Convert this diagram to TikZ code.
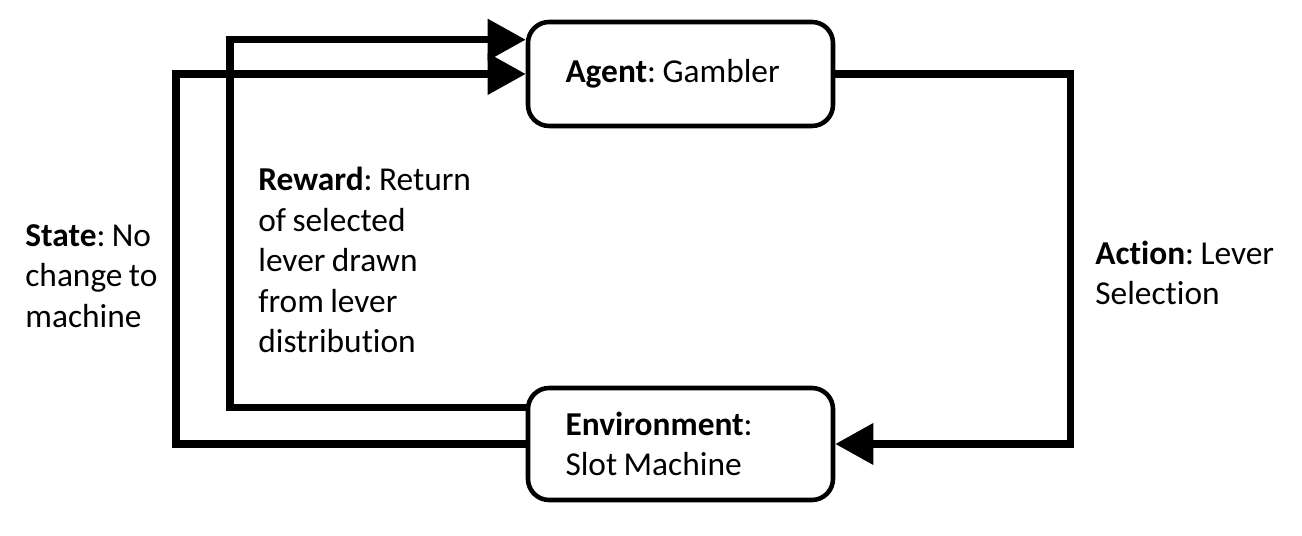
\documentclass[tikz,border=0pt]{standalone}
\usepackage{fontspec}
\setmainfont[Ligatures=NoCommon, WordSpace=0.85]{Carlito}
\usetikzlibrary{calc, positioning, arrows.meta}

\begin{document}
\frenchspacing
\begin{tikzpicture}[
    box/.style={draw, line width=2.6pt, rounded corners=12pt, minimum width=6.1cm,
      text width=4.6cm, align=flush left, inner sep=0pt},
    flow/.style={line width=4pt, -{Triangle[length=0.76cm, width=0.8cm]}},
    lbl/.style={anchor=west, align=left, inner sep=0pt},
    font=\fontsize{19}{23}\selectfont,
  ]
    \useasboundingbox (0,0) rectangle (26.04,10.72);

    % the two boxes
    \node[box, minimum height=2.08cm] (agent) at (13.61,9.24) {\textbf{Agent}: Gambler};
    \node[box, minimum height=2.24cm] (env) at (13.61,1.84) {\textbf{Environment}:\\Slot Machine};

    % loops
    \coordinate (rwout) at ($(env.north west)+(0,-0.44)$);
    \coordinate (rwin) at ($(agent.north west)+(0,-0.4)$);
    \draw[flow] (agent.east) -- (21.4,0 |- agent.east) |- (env.east);
    \draw[flow] (rwout) -- (4.6,0 |- rwout) |- (rwin);
    \draw[flow] (env.west) -- (3.52,0 |- env.west) |- (agent.west);

    % labels
    \node[lbl] (reward) at (5.16,5.52) {\textbf{Reward}: Return\\of selected\\lever drawn\\from lever\\distribution};
    \node[lbl] (state) at (0.5,5.2) {\textbf{State}: No\\change to\\machine};
    \node[lbl] (action) at (21.9,5.26) {\textbf{Action}: Lever\\Selection};
  \end{tikzpicture}
\end{document}
